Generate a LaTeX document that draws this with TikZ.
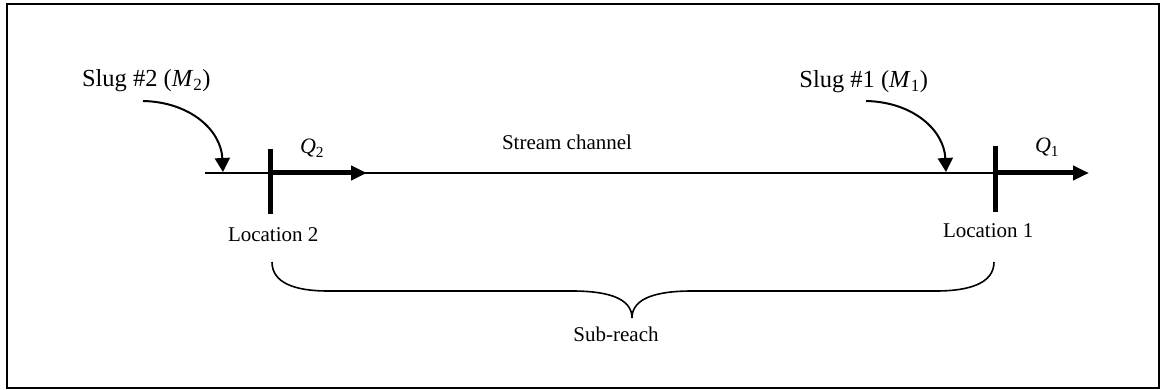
\documentclass[tikz,border=0pt]{standalone}
\usepackage{fontspec}
\setmainfont{Liberation Serif}
\usetikzlibrary{arrows.meta}
\tikzset{
  lbl/.style={inner sep=0pt, outer sep=0pt, font=\fontsize{21}{24}\selectfont},
  slugtxt/.style={inner sep=0pt, outer sep=0pt, font=\fontsize{24.5}{28}\selectfont},
  qtxt/.style={inner sep=0pt, outer sep=0pt, font=\fontsize{22}{26}\selectfont},
  thin line/.style={line width=1.6pt},
  flow/.style={line width=5pt, -{Triangle[length=16pt,width=14pt]}},
  bar/.style={line width=5pt},
  drop/.style={line width=2pt, -{Triangle[length=14pt,width=15pt]}},
  brace/.style={line width=1.6pt}
}
\begin{document}
\begin{tikzpicture}[x=1pt,y=-1pt]
\useasboundingbox (0,0) rectangle (1162,390);
\draw[line width=1.6pt] (7,4) rectangle (1159,388);
% stream channel
\coordinate (start) at (205,173);
\coordinate (L2) at (270,173);
\coordinate (L2top) at (270,149);
\coordinate (L2bot) at (270,214);
\coordinate (L1) at (995,173);
\coordinate (L1top) at (995,146);
\coordinate (L1bot) at (995,212);
\coordinate (Q2end) at (367,173);
\coordinate (Q1end) at (1089,173);
\draw[thin line] (start) -- (L1);
\draw[flow] (L2) -- (Q2end);
\draw[flow] (L1) -- (Q1end);
\draw[bar] (L2top) -- (L2bot);
\draw[bar] (L1top) -- (L1bot);
% slugs
\node[slugtxt, anchor=base west] (slug2) at (82,87) {Slug \#2 (\textit{M}\textsubscript{2})};
\node[slugtxt, anchor=base east] (slug1) at (928,88) {Slug \#1 (\textit{M}\textsubscript{1})};
\coordinate (d2s) at (143,101);
\coordinate (d2e) at (223,172);
\coordinate (d1s) at (866,101);
\coordinate (d1e) at (946,172);
\draw[drop] (d2s) .. controls (190,102) and (221,130) .. (d2e);
\draw[drop] (d1s) .. controls (913,102) and (944,130) .. (d1e);
% labels
\node[qtxt, anchor=base west] (q2) at (300,154) {\textit{Q}\textsubscript{2}};
\node[qtxt, anchor=base west] (q1) at (1035,153) {\textit{Q}\textsubscript{1}};
\node[lbl, anchor=base west] (stream) at (502,150) {Stream channel};
\node[lbl, anchor=base west] (loc2) at (228,242) {Location 2};
\node[lbl, anchor=base west] (loc1) at (943,238) {Location 1};
% brace
\draw[brace] (272,262) .. controls (272,283) and (295,291) .. (328,291)
  -- (572,291) .. controls (612,291) and (632,300) .. (632,318)
  .. controls (632,300) and (652,291) .. (692,291)
  -- (936,291) .. controls (970,291) and (994,283) .. (994,262);
\node[lbl, anchor=base] (sub) at (616,341) {Sub-reach};
\end{tikzpicture}
\end{document}
